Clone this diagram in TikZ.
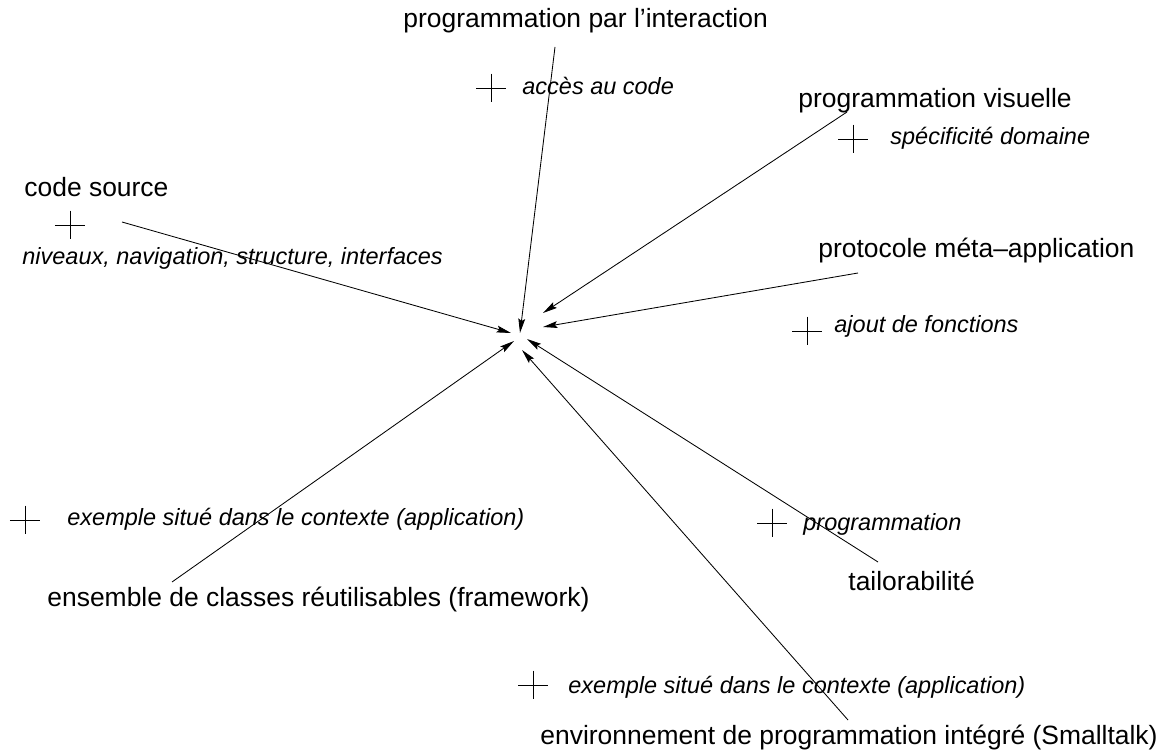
\documentclass[tikz,border=0pt]{standalone}
\usepackage{fontspec}
\setmainfont{Liberation Sans}
\usetikzlibrary{arrows.meta}
\tikzset{
  every picture/.style={line width=0.6pt},
  topic/.style={anchor=base west, inner sep=0pt, font=\fontsize{18.8}{22}\selectfont},
  aspect/.style={anchor=base west, inner sep=0pt, font=\fontsize{16.7}{20}\selectfont\itshape},
  plus/.style={inner sep=0pt, minimum width=0.75cm, minimum height=0.72cm,
    path picture={\draw[line width=0.6pt] (path picture bounding box.north) -- (path picture bounding box.south)
      (path picture bounding box.west) -- (path picture bounding box.east);}},
  arrow/.style={-{Stealth[length=3.6mm, width=1.7mm, inset=0.6mm]}},
}
\begin{document}
\begin{tikzpicture}[x=0.025cm, y=-0.025cm]
  \useasboundingbox (0,0) rectangle (1163,753);
  % the ways of programming, around one point
  \node[topic] (inter) at (403,28)  {programmation par l'interaction};
  \node[plus]  (p-inter) at (491,88) {};
  \node[aspect] (acces) at (522,95) {accès au code};
  \node[topic] (visu) at (798,108)  {programmation visuelle};
  \node[plus]  (p-visu) at (853,139) {};
  \node[aspect] (domaine) at (890,145) {spécificité domaine};
  \node[topic] (code) at (24,197)   {code source};
  \node[plus]  (p-code) at (70,225) {};
  \node[aspect] (niveaux) at (22,265) {niveaux, navigation, structure, interfaces};
  \node[topic] (proto) at (818,258) {protocole méta–application};
  \node[plus]  (p-proto) at (807,331) {};
  \node[aspect] (ajout) at (834,333) {ajout de fonctions};
  \node[plus]  (p-frame) at (25,520) {};
  \node[aspect] (ex-frame) at (67,525) {exemple situé dans le contexte (application)};
  \node[topic] (frame) at (47,606)  {ensemble de classes réutilisables (framework)};
  \node[plus]  (p-tailor) at (772,523) {};
  \node[aspect] (prog) at (803,530) {programmation};
  \node[topic] (tailor) at (848,590) {tailorabilité};
  \node[plus]  (p-env) at (533,685) {};
  \node[aspect] (ex-env) at (568,693) {exemple situé dans le contexte (application)};
  \node[topic] (env) at (540,744)   {environnement de programmation intégré (Smalltalk)};
  % free ends of the arrows
  \coordinate (t-inter) at (555,47);   \coordinate (h-inter) at (520,333);
  \coordinate (t-visu) at (847,112);   \coordinate (h-visu) at (543,313);
  \coordinate (t-proto) at (858,273);  \coordinate (h-proto) at (543,327);
  \coordinate (t-code) at (122,222);   \coordinate (h-code) at (511,333);
  \coordinate (t-frame) at (172,582);  \coordinate (h-frame) at (514,341);
  \coordinate (t-env) at (848,720);    \coordinate (h-env) at (522,350);
  \coordinate (t-tailor) at (878,562); \coordinate (h-tailor) at (527,339);
  \foreach \n in {inter,visu,proto,code,frame,env,tailor} \draw[arrow] (t-\n) -- (h-\n);
\end{tikzpicture}
\end{document}
